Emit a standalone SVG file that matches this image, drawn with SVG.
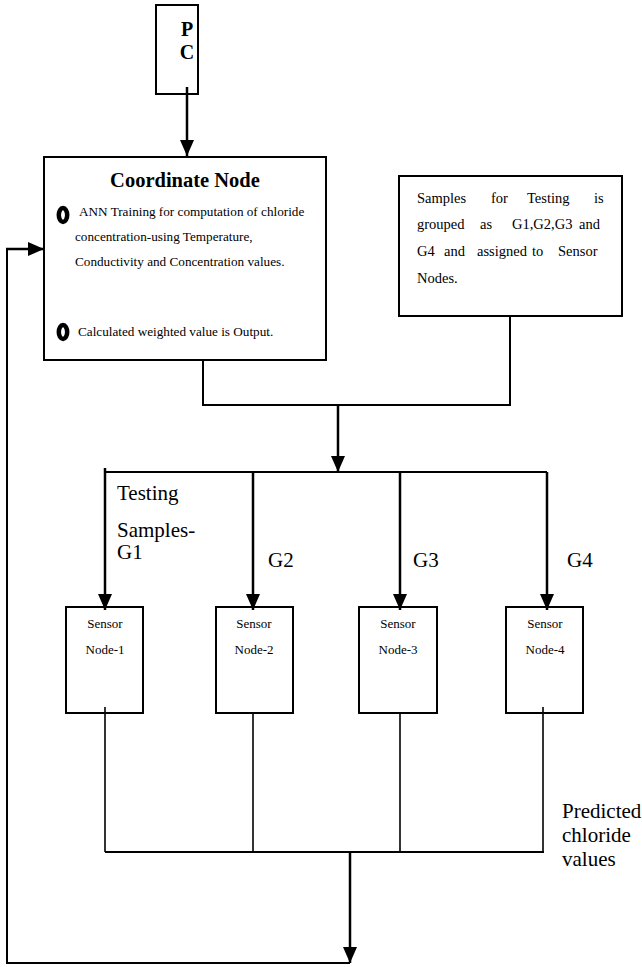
<svg xmlns="http://www.w3.org/2000/svg" width="642" height="967" viewBox="0 0 642 967">
<style>
text{font-family:"Liberation Serif","Times New Roman",serif;fill:#000}
.box{fill:#fff;stroke:#000;stroke-width:2}
.ln{fill:none;stroke:#000;stroke-width:2}
.ar{fill:none;stroke:#000;stroke-width:2.5;marker-end:url(#ah)}
.thin{fill:none;stroke:#000;stroke-width:1.6}
.bul{fill:#fff;stroke:#000;stroke-width:4.5}
.s{font-size:13px}
.c{font-size:13.2px}
.t{font-size:14.5px}
.lab{font-size:21px}
</style>
<defs>
<marker id="ah" viewBox="0 0 16 14" refX="16" refY="7" markerWidth="16" markerHeight="14" markerUnits="userSpaceOnUse" orient="auto">
<path d="M0,0 L16,7 L0,14 Z" fill="#000"/>
</marker>
</defs>

<g id="pc">
<rect class="box" x="156" y="5" width="42" height="89"/>
<text x="187" y="36" font-size="20" font-weight="bold" text-anchor="middle">P</text>
<text x="187" y="59" font-size="20" font-weight="bold" text-anchor="middle">C</text>
</g>

<g id="coordinate-node">
<rect class="box" x="44" y="157" width="282" height="203"/>
<text x="185" y="187" font-size="20.5" font-weight="bold" text-anchor="middle">Coordinate Node</text>
<ellipse class="bul" cx="63" cy="215" rx="4.2" ry="7"/>
<text class="c" x="79" y="216">ANN Training for computation of chloride</text>
<text class="c" x="75" y="241">concentration-using Temperature,</text>
<text class="c" x="75" y="266">Conductivity and Concentration values.</text>
<ellipse class="bul" cx="63" cy="332" rx="4.2" ry="7"/>
<text class="c" x="78" y="336">Calculated weighted value is Output.</text>
</g>

<g id="samples">
<rect class="box" x="399" y="176" width="223" height="140"/>
<text class="t" y="203"><tspan x="417">Samples</tspan><tspan x="491">for</tspan><tspan x="527">Testing</tspan><tspan x="594">is</tspan></text>
<text class="t" y="229"><tspan x="417">grouped</tspan><tspan x="480">as</tspan><tspan x="512">G1,G2,G3</tspan><tspan x="579">and</tspan></text>
<text class="t" y="256"><tspan x="417">G4</tspan><tspan x="444">and</tspan><tspan x="477">assigned</tspan><tspan x="532">to</tspan><tspan x="558">Sensor</tspan></text>
<text class="t" x="417" y="283">Nodes.</text>
</g>

<g id="sensor-1">
<rect class="box" x="66" y="607" width="77" height="106"/>
<text class="s" x="105" y="628" text-anchor="middle">Sensor</text>
<text class="s" x="105" y="654" text-anchor="middle">Node-1</text>
</g>
<g id="sensor-2">
<rect class="box" x="216" y="607" width="77" height="106"/>
<text class="s" x="254" y="628" text-anchor="middle">Sensor</text>
<text class="s" x="254" y="654" text-anchor="middle">Node-2</text>
</g>
<g id="sensor-3">
<rect class="box" x="359" y="607" width="78" height="106"/>
<text class="s" x="398" y="628" text-anchor="middle">Sensor</text>
<text class="s" x="398" y="654" text-anchor="middle">Node-3</text>
</g>
<g id="sensor-4">
<rect class="box" x="506" y="607" width="77" height="106"/>
<text class="s" x="545" y="628" text-anchor="middle">Sensor</text>
<text class="s" x="545" y="654" text-anchor="middle">Node-4</text>
</g>

<g id="connectors">
<line class="ar" x1="187" y1="87" x2="187" y2="156"/>
<polyline class="ln" points="203,360 203,405 510,405 510,316"/>
<line class="ar" x1="338" y1="405" x2="338" y2="472"/>
<line class="ln" x1="105" y1="472" x2="547" y2="472"/>
<line class="ar" x1="105" y1="468" x2="105" y2="610"/>
<line class="ar" x1="253" y1="472" x2="253" y2="610"/>
<line class="ar" x1="400" y1="472" x2="400" y2="610"/>
<line class="ar" x1="547" y1="472" x2="547" y2="610"/>
<line class="thin" x1="105" y1="707" x2="105" y2="852"/>
<line class="thin" x1="253" y1="713" x2="253" y2="852"/>
<line class="thin" x1="400" y1="713" x2="400" y2="852"/>
<line class="thin" x1="543" y1="707" x2="543" y2="852"/>
<line class="ln" x1="105" y1="852" x2="544" y2="852"/>
<line class="ar" x1="350" y1="852" x2="350" y2="963"/>
<polyline class="ln" points="350,963 7,963 7,249"/>
<line class="ar" x1="6" y1="249" x2="44" y2="249"/>
</g>

<g id="labels">
<text class="lab" x="117" y="500">Testing</text>
<text class="lab" x="117" y="537">Samples-</text>
<text class="lab" x="117" y="559">G1</text>
<text class="lab" x="268" y="567">G2</text>
<text class="lab" x="413" y="567">G3</text>
<text class="lab" x="567" y="567">G4</text>
<text class="lab" x="562" y="818">Predicted</text>
<text class="lab" x="562" y="842">chloride</text>
<text class="lab" x="562" y="866">values</text>
</g>
</svg>
